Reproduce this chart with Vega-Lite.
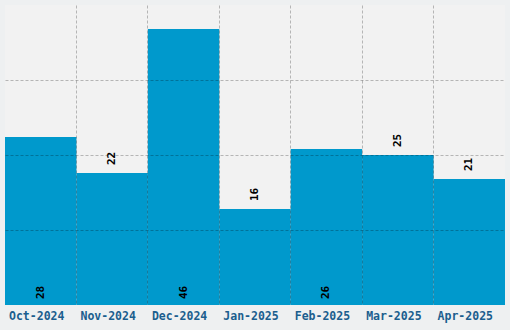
{
  "$schema": "https://vega.github.io/schema/vega-lite/v6.json",
  "width": 500,
  "height": 300,
  "autosize": {"type": "none"},
  "padding": {"left": 5, "top": 5, "right": 5, "bottom": 25},
  "background": "#eef0f1",
  "config": {
    "view": {"fill": "#f2f2f2", "stroke": null},
    "font": "DejaVu Sans Mono"
  },
  "data": {
    "values": [
      {"month": "Oct-2024", "value": 28},
      {"month": "Nov-2024", "value": 22},
      {"month": "Dec-2024", "value": 46},
      {"month": "Jan-2025", "value": 16},
      {"month": "Feb-2025", "value": 26},
      {"month": "Mar-2025", "value": 25},
      {"month": "Apr-2025", "value": 21}
    ]
  },
  "encoding": {
    "x": {
      "field": "month",
      "type": "nominal",
      "sort": null,
      "scale": {"paddingInner": 0, "paddingOuter": 0},
      "axis": {
        "title": null,
        "labelAngle": 0,
        "ticks": false,
        "domain": false,
        "labelPadding": 5,
        "labelOffset": -4,
        "labelFont": "DejaVu Sans Mono",
        "labelFontWeight": "bold",
        "labelFontSize": 11.5,
        "labelColor": "#1b5e8e",
        "grid": true,
        "bandPosition": 0,
        "gridColor": "#000000",
        "gridDash": [3, 2],
        "gridOpacity": {"condition": {"test": "datum.value === 'Oct-2024'", "value": 0}, "value": 0.25},
        "zindex": 1
      }
    }
  },
  "layer": [
    {
      "mark": {"type": "bar", "color": "#0099cc"},
      "encoding": {
        "y": {
          "field": "value",
          "type": "quantitative",
          "scale": {"domain": [0, 50], "nice": false},
          "axis": {
            "title": null,
            "labels": false,
            "ticks": false,
            "domain": false,
            "values": [12.5, 25, 37.5],
            "gridColor": "#000000",
            "gridDash": [3, 2],
            "gridOpacity": 0.25,
            "zindex": 1
          }
        }
      }
    },
    {
      "transform": [{"filter": "datum.value >= 26"}],
      "mark": {
        "type": "text",
        "angle": 270,
        "align": "left",
        "baseline": "middle",
        "dx": 6,
        "font": "DejaVu Sans Mono",
        "fontWeight": "bold",
        "fontSize": 11,
        "color": "#000000"
      },
      "encoding": {
        "y": {"datum": 0, "type": "quantitative"},
        "text": {"field": "value", "type": "quantitative"}
      }
    },
    {
      "transform": [{"filter": "datum.value < 26"}],
      "mark": {
        "type": "text",
        "angle": 270,
        "align": "left",
        "baseline": "middle",
        "dx": 8,
        "font": "DejaVu Sans Mono",
        "fontWeight": "bold",
        "fontSize": 11,
        "color": "#000000"
      },
      "encoding": {
        "y": {"field": "value", "type": "quantitative"},
        "text": {"field": "value", "type": "quantitative"}
      }
    }
  ]
}
